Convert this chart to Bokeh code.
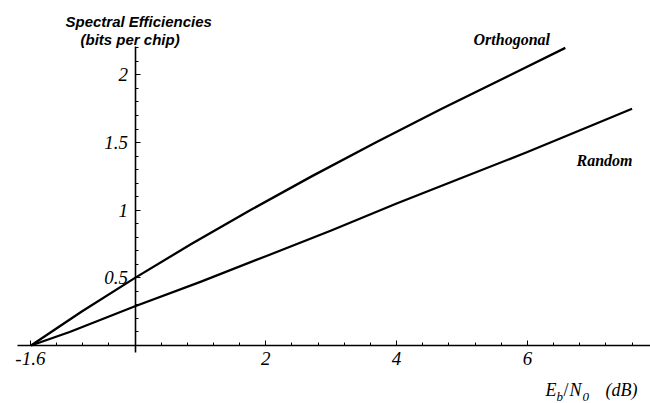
from bokeh.plotting import figure
from bokeh.models import FixedTicker, Label
from bokeh.embed import file_html
from bokeh.resources import INLINE

# Data (Eb/N0 in dB, spectral efficiency in bits per chip)
orth_x = [-1.59, -0.82, 0.0, 0.86, 1.76, 2.70, 3.68, 4.69, 5.74, 6.58]
orth_y = [0.0, 0.25, 0.50, 0.75, 1.00, 1.25, 1.50, 1.75, 2.00, 2.20]

rand_x = [-1.59, -1.0, 0.0, 1.0, 2.0, 3.0, 4.0, 5.0, 6.0, 7.0, 7.6]
rand_y = [0.0, 0.10, 0.29, 0.47, 0.66, 0.85, 1.05, 1.24, 1.43, 1.63, 1.75]

x_major = [-1.6, 2, 4, 6]
x_minor = [round(-1.6 + 0.4 * i, 1) for i in range(25)]
x_labels = {-1.6: "-1.6", 2: "2", 4: "4", 6: "6"}

y_major = [0.5, 1, 1.5, 2]
y_minor = [round(0.1 * i, 1) for i in range(23)]
y_labels = {0.5: "0.5", 1: "1", 1.5: "1.5", 2: "2"}

p = figure(width=650, height=403, output_backend="svg", toolbar_location=None,
           x_range=(-2.057, 7.882), y_range=(-0.4287, 2.550),
           min_border=0, outline_line_color=None)
p.grid.visible = False
p.background_fill_color = "white"
p.border_fill_color = "white"

for ax, loc, ticks, minor, labels, bounds, standoff in [
    (p.xaxis[0], 0, x_major, x_minor, x_labels, (-1.80, 7.9), 7),
    (p.yaxis[0], 0, y_major, y_minor, y_labels, (-0.05, 2.21), 7),
]:
    ax.fixed_location = loc
    ax.ticker = FixedTicker(ticks=ticks, minor_ticks=minor)
    ax.major_label_overrides = labels
    ax.bounds = bounds
    ax.axis_line_width = 1.6
    ax.axis_line_color = "black"
    ax.major_tick_in = 5
    ax.major_tick_out = 0
    ax.minor_tick_in = 3
    ax.minor_tick_out = 0
    ax.major_tick_line_color = "black"
    ax.minor_tick_line_color = "black"
    ax.major_label_text_font = "Liberation Serif"
    ax.major_label_text_font_style = "italic"
    ax.major_label_text_font_size = "19px"
    ax.major_label_text_color = "black"
    ax.major_label_standoff = standoff

p.line(orth_x, orth_y, line_width=2.3, line_color="black", line_join="round")
p.line(rand_x, rand_y, line_width=2.3, line_color="black", line_join="round")

def lab(x, y, text, font, style, size):
    p.add_layout(Label(x=x, y=y, x_units="screen", y_units="screen", text=text,
                       text_font=font, text_font_style=style, text_font_size=size,
                       text_color="black", text_baseline="alphabetic", text_align="left"))

lab(65, 382, "Spectral Efficiencies", "Liberation Sans", "bold italic", "15px")
lab(80, 364, "(bits per chip)", "Liberation Sans", "bold italic", "15px")
lab(473, 364, "Orthogonal", "Liberation Serif", "bold italic", "16px")
lab(576, 243, "Random", "Liberation Serif", "bold italic", "16px")

# E_b / N_0  (dB)
lab(545, 14, "E", "Liberation Serif", "italic", "18px")
lab(556, 7, "b", "Liberation Serif", "italic", "13px")
lab(563, 14, "/", "Liberation Serif", "normal", "18px")
lab(569, 14, "N", "Liberation Serif", "italic", "18px")
lab(582, 7, "0", "Liberation Serif", "italic", "13px")
lab(605, 14, "(dB)", "Liberation Serif", "italic", "18px")

open("out.html", "w").write(file_html(p, INLINE))
